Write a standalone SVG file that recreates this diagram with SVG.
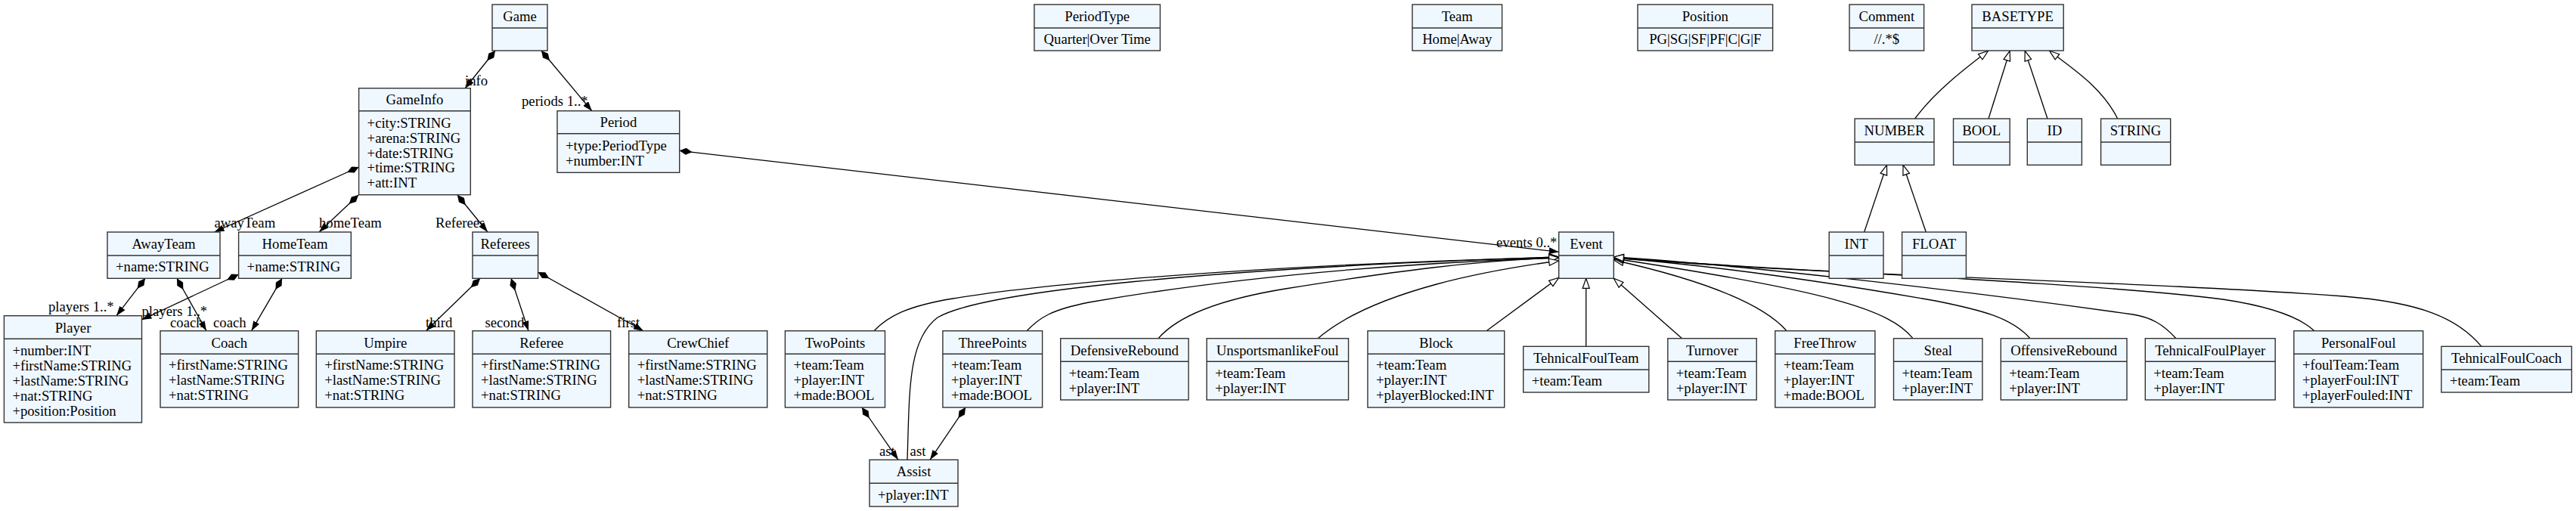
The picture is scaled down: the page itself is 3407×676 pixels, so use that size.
<svg xmlns="http://www.w3.org/2000/svg" width="3407" height="676" viewBox="0 0 3407 676">
<style>
.box rect{fill:#f0f8ff;stroke:#333;stroke-width:1.4}
.box line{stroke:#333;stroke-width:1.4}
text{font-family:'Liberation Serif','Times New Roman',serif;font-size:18.7px;fill:#000}
.c{text-anchor:middle}
.e{fill:none;stroke:#000;stroke-width:1.3}
.comp{marker-start:url(#diamond);marker-end:url(#arrow)}
.inh{marker-end:url(#tri)}
</style>
<defs>
<marker id="arrow" viewBox="0 0 13 9" refX="13" refY="4.5" markerWidth="13" markerHeight="9" markerUnits="userSpaceOnUse" orient="auto"><path d="M0,0 L13,4.5 L0,9 z" fill="#000"/></marker>
<marker id="diamond" viewBox="0 0 17 9" refX="0" refY="4.5" markerWidth="17" markerHeight="9" markerUnits="userSpaceOnUse" orient="auto"><path d="M0,4.5 L8.5,0 L17,4.5 L8.5,9 z" fill="#000"/></marker>
<marker id="tri" viewBox="-1 -1 15 11" refX="13" refY="4.5" markerWidth="15" markerHeight="11" markerUnits="userSpaceOnUse" orient="auto"><path d="M0,0 L13,4.5 L0,9 z" fill="#fff" stroke="#000" stroke-width="1.2"/></marker>
</defs>
<rect width="3407" height="676" fill="#fff"/>

<g id="connectors">
<!-- compositions -->
<path class="e comp" d="M655,67 L615,117"/>
<path class="e comp" d="M716,67 L783,147"/>
<path class="e comp" d="M474.6,221 L283.5,307"/>
<path class="e comp" d="M474,258 L422,307"/>
<path class="e comp" d="M605,258 L645,307"/>
<path class="e comp" d="M192,368.3 L154,417.7"/>
<path class="e comp" d="M234,368.3 L273,437.7"/>
<path class="e comp" d="M315.6,363 L187.5,423"/>
<path class="e comp" d="M373,368.3 L332.6,437.7"/>
<path class="e comp" d="M635,368.3 L563.4,437.7"/>
<path class="e comp" d="M676,368.3 L699,437.7"/>
<path class="e comp" d="M711.6,360 L851,437.7"/>
<path class="e comp" d="M898.7,199.3 L2061.7,333.3"/>
<path class="e comp" d="M1140,539 L1188,608.3"/>
<path class="e comp" d="M1277,539 L1230,608.3"/>
<!-- Event inheritance, left -->
<path class="e inh" d="M1200,608.3 C1203,520 1200,450 1240,420 C1300,385 1600,355 2061.7,340"/>
<path class="e inh" d="M1156,437.7 C1175,418 1200,405 1260,395 C1400,372 1700,350 2061.7,340"/>
<path class="e inh" d="M1358,437.7 C1375,420 1390,410 1440,400 C1600,372 1800,350 2061.7,341"/>
<path class="e inh" d="M1532,447.7 C1560,415 1620,395 1700,382 C1850,358 1950,345 2061.7,341"/>
<path class="e inh" d="M1743,447.7 C1775,420 1830,395 1900,376 C1960,360 2010,352 2061.7,345"/>
<path class="e inh" d="M1966,437.7 L2061.7,367.3"/>
<!-- Event inheritance, bottom/right -->
<path class="e inh" d="M2097.7,458.3 L2097.7,368.3"/>
<path class="e inh" d="M2224.6,447.7 L2134.3,368.3"/>
<path class="e inh" d="M2363,437.7 C2330,400 2250,370 2134.3,344"/>
<path class="e inh" d="M2530,447.7 C2500,410 2420,385 2134.3,342"/>
<path class="e inh" d="M2685,447.7 C2660,420 2620,410 2560,398 C2400,370 2250,350 2134.3,341"/>
<path class="e inh" d="M2878,447.7 C2860,428 2845,420 2821,416 C2600,385 2300,350 2134.3,340"/>
<path class="e inh" d="M3061,437.7 C3040,418 3000,405 2940,396 C2750,372 2300,355 2134.3,341"/>
<path class="e inh" d="M3282,458.3 C3250,420 3200,400 3100,392 C2800,370 2400,365 2134.3,340"/>
<!-- type hierarchy -->
<path class="e inh" d="M2532.6,157 C2560,120 2600,90 2629.5,67.3"/>
<path class="e inh" d="M2630,157 L2658.2,67.3"/>
<path class="e inh" d="M2708,157 L2678.2,67.3"/>
<path class="e inh" d="M2800.7,157 C2780,115 2740,90 2710.7,67.3"/>
<path class="e inh" d="M2465.6,307 L2495.5,218.3"/>
<path class="e inh" d="M2547.3,307 L2517,218.3"/>
<!-- labels -->
<text x="615" y="113">info</text>
<text x="690" y="140">periods 1..*</text>
<text x="1979" y="327">events 0..*</text>
<text x="283.5" y="301">awayTeam</text>
<text x="422" y="301">homeTeam</text>
<text x="576" y="301">Referees</text>
<text x="64" y="412">players 1..*</text>
<text x="187.5" y="418">players 1..*</text>
<text x="225" y="433">coach</text>
<text x="282" y="433">coach</text>
<text x="563" y="433">third</text>
<text x="641.5" y="433">second</text>
<text x="816" y="433">first</text>
<text x="1163" y="603">ast</text>
<text x="1203.6" y="603">ast</text>
</g>

<g id="Game" class="box"><rect x="651" y="6" width="73" height="61"/><line x1="651" y1="37" x2="724" y2="37"/><text class="c" x="687.5" y="28">Game</text></g>

<g id="GameInfo" class="box"><rect x="474.6" y="116.7" width="147.7" height="141"/><line x1="474.6" y1="146.7" x2="622.3" y2="146.7"/><text class="c" x="548.5" y="138.2">GameInfo</text>
<text x="485.6" y="168.8">+city:STRING</text><text x="485.6" y="188.6">+arena:STRING</text><text x="485.6" y="208.5">+date:STRING</text><text x="485.6" y="228.3">+time:STRING</text><text x="485.6" y="248.2">+att:INT</text></g>

<g id="Period" class="box"><rect x="737" y="146.7" width="161.7" height="81.6"/><line x1="737" y1="176.7" x2="898.7" y2="176.7"/><text class="c" x="817.9" y="168.2">Period</text>
<text x="748" y="199.2">+type:PeriodType</text><text x="748" y="218.8">+number:INT</text></g>

<g id="PeriodType" class="box"><rect x="1367.9" y="6" width="166.5" height="61"/><line x1="1367.9" y1="37" x2="1534.4" y2="37"/><text class="c" x="1451.2" y="28">PeriodType</text><text class="c" x="1451.2" y="58.2">Quarter|Over Time</text></g>

<g id="Team" class="box"><rect x="1867.9" y="6" width="118.7" height="61"/><line x1="1867.9" y1="37" x2="1986.6" y2="37"/><text class="c" x="1927.3" y="28">Team</text><text class="c" x="1927.3" y="58.2">Home|Away</text></g>

<g id="Position" class="box"><rect x="2166" y="6" width="178.6" height="61"/><line x1="2166" y1="37" x2="2344.6" y2="37"/><text class="c" x="2255.3" y="28">Position</text><text class="c" x="2255.3" y="58.2">PG|SG|SF|PF|C|G|F</text></g>

<g id="Comment" class="box"><rect x="2446" y="6" width="98.6" height="61"/><line x1="2446" y1="37" x2="2544.6" y2="37"/><text class="c" x="2495.3" y="28">Comment</text><text class="c" x="2495.3" y="58.2">//.*$</text></g>

<g id="BASETYPE" class="box"><rect x="2608" y="6" width="121.2" height="61"/><line x1="2608" y1="37" x2="2729.2" y2="37"/><text class="c" x="2668.6" y="28">BASETYPE</text></g>

<g id="NUMBER" class="box"><rect x="2453.1" y="157" width="104.9" height="61.3"/><line x1="2453.1" y1="188" x2="2558" y2="188"/><text class="c" x="2505.5" y="179">NUMBER</text></g>
<g id="BOOL" class="box"><rect x="2583.5" y="157" width="74.7" height="61.3"/><line x1="2583.5" y1="188" x2="2658.2" y2="188"/><text class="c" x="2620.8" y="179">BOOL</text></g>
<g id="ID" class="box"><rect x="2681.3" y="157" width="72.1" height="61.3"/><line x1="2681.3" y1="188" x2="2753.4" y2="188"/><text class="c" x="2717.3" y="179">ID</text></g>
<g id="STRING" class="box"><rect x="2778.6" y="157" width="92.1" height="61.3"/><line x1="2778.6" y1="188" x2="2870.7" y2="188"/><text class="c" x="2824.6" y="179">STRING</text></g>
<g id="INT" class="box"><rect x="2419.2" y="307" width="71.8" height="61.3"/><line x1="2419.2" y1="338" x2="2491" y2="338"/><text class="c" x="2455.1" y="329">INT</text></g>
<g id="FLOAT" class="box"><rect x="2515.6" y="307" width="84.8" height="61.3"/><line x1="2515.6" y1="338" x2="2600.4" y2="338"/><text class="c" x="2558" y="329">FLOAT</text></g>

<g id="Event" class="box"><rect x="2061.7" y="307" width="72.6" height="61.3"/><line x1="2061.7" y1="338" x2="2134.3" y2="338"/><text class="c" x="2098" y="329">Event</text></g>

<g id="AwayTeam" class="box"><rect x="142" y="307" width="149" height="61.3"/><line x1="142" y1="338" x2="291" y2="338"/><text class="c" x="216.5" y="329">AwayTeam</text><text x="153" y="358.8">+name:STRING</text></g>
<g id="HomeTeam" class="box"><rect x="315.6" y="307" width="148.7" height="61.3"/><line x1="315.6" y1="338" x2="464.3" y2="338"/><text class="c" x="390" y="329">HomeTeam</text><text x="326.6" y="358.8">+name:STRING</text></g>
<g id="Referees" class="box"><rect x="625" y="307" width="86.6" height="61.3"/><line x1="625" y1="338" x2="711.6" y2="338"/><text class="c" x="668.3" y="329">Referees</text></g>

<g id="Player" class="box"><rect x="5.4" y="417.7" width="182.1" height="141.3"/><line x1="5.4" y1="448.3" x2="187.5" y2="448.3"/><text class="c" x="96.5" y="439.5">Player</text>
<text x="16.4" y="469.8">+number:INT</text><text x="16.4" y="489.8">+firstName:STRING</text><text x="16.4" y="509.8">+lastName:STRING</text><text x="16.4" y="529.8">+nat:STRING</text><text x="16.4" y="549.8">+position:Position</text></g>

<g id="Coach" class="box"><rect x="212" y="437.7" width="182.6" height="101.3"/><line x1="212" y1="468.3" x2="394.6" y2="468.3"/><text class="c" x="303.3" y="459.5">Coach</text>
<text x="223" y="489.2">+firstName:STRING</text><text x="223" y="509.2">+lastName:STRING</text><text x="223" y="529.2">+nat:STRING</text></g>
<g id="Umpire" class="box"><rect x="418.3" y="437.7" width="182.7" height="101.3"/><line x1="418.3" y1="468.3" x2="601" y2="468.3"/><text class="c" x="509.7" y="459.5">Umpire</text>
<text x="429.3" y="489.2">+firstName:STRING</text><text x="429.3" y="509.2">+lastName:STRING</text><text x="429.3" y="529.2">+nat:STRING</text></g>
<g id="Referee" class="box"><rect x="625" y="437.7" width="182.6" height="101.3"/><line x1="625" y1="468.3" x2="807.6" y2="468.3"/><text class="c" x="716.3" y="459.5">Referee</text>
<text x="636" y="489.2">+firstName:STRING</text><text x="636" y="509.2">+lastName:STRING</text><text x="636" y="529.2">+nat:STRING</text></g>
<g id="CrewChief" class="box"><rect x="831.7" y="437.7" width="183" height="101.3"/><line x1="831.7" y1="468.3" x2="1014.7" y2="468.3"/><text class="c" x="923.2" y="459.5">CrewChief</text>
<text x="842.7" y="489.2">+firstName:STRING</text><text x="842.7" y="509.2">+lastName:STRING</text><text x="842.7" y="529.2">+nat:STRING</text></g>

<g id="TwoPoints" class="box"><rect x="1038.4" y="437.7" width="132.1" height="101.3"/><line x1="1038.4" y1="468.3" x2="1170.5" y2="468.3"/><text class="c" x="1104.5" y="459.5">TwoPoints</text>
<text x="1049.4" y="489.2">+team:Team</text><text x="1049.4" y="509.2">+player:INT</text><text x="1049.4" y="529.2">+made:BOOL</text></g>
<g id="ThreePoints" class="box"><rect x="1246.9" y="437.7" width="131.7" height="101.3"/><line x1="1246.9" y1="468.3" x2="1378.6" y2="468.3"/><text class="c" x="1312.8" y="459.5">ThreePoints</text>
<text x="1257.9" y="489.2">+team:Team</text><text x="1257.9" y="509.2">+player:INT</text><text x="1257.9" y="529.2">+made:BOOL</text></g>
<g id="Assist" class="box"><rect x="1150" y="608.3" width="117" height="61.7"/><line x1="1150" y1="639.3" x2="1267" y2="639.3"/><text class="c" x="1208.5" y="630.3">Assist</text><text x="1161" y="660.5">+player:INT</text></g>

<g id="DefensiveRebound" class="box"><rect x="1402.7" y="447.7" width="169.2" height="81.3"/><line x1="1402.7" y1="478.3" x2="1571.9" y2="478.3"/><text class="c" x="1487.3" y="469.5">DefensiveRebound</text>
<text x="1413.7" y="499.8">+team:Team</text><text x="1413.7" y="519.8">+player:INT</text></g>
<g id="UnsportsmanlikeFoul" class="box"><rect x="1596" y="447.7" width="187.5" height="81.3"/><line x1="1596" y1="478.3" x2="1783.5" y2="478.3"/><text class="c" x="1689.8" y="469.5">UnsportsmanlikeFoul</text>
<text x="1607" y="499.8">+team:Team</text><text x="1607" y="519.8">+player:INT</text></g>
<g id="Block" class="box"><rect x="1808.9" y="437.7" width="180.8" height="101.3"/><line x1="1808.9" y1="468.3" x2="1989.7" y2="468.3"/><text class="c" x="1899.3" y="459.5">Block</text>
<text x="1819.9" y="489.2">+team:Team</text><text x="1819.9" y="509.2">+player:INT</text><text x="1819.9" y="529.2">+playerBlocked:INT</text></g>
<g id="TehnicalFoulTeam" class="box"><rect x="2014.7" y="458.3" width="166.1" height="60.7"/><line x1="2014.7" y1="489" x2="2180.8" y2="489"/><text class="c" x="2097.7" y="480.2">TehnicalFoulTeam</text><text x="2025.7" y="509.8">+team:Team</text></g>
<g id="Turnover" class="box"><rect x="2205.8" y="447.7" width="117.4" height="81.3"/><line x1="2205.8" y1="478.3" x2="2323.2" y2="478.3"/><text class="c" x="2264.5" y="469.5">Turnover</text>
<text x="2216.8" y="499.8">+team:Team</text><text x="2216.8" y="519.8">+player:INT</text></g>
<g id="FreeThrow" class="box"><rect x="2347.8" y="437.7" width="132.1" height="101.3"/><line x1="2347.8" y1="468.3" x2="2479.9" y2="468.3"/><text class="c" x="2413.8" y="459.5">FreeThrow</text>
<text x="2358.8" y="489.2">+team:Team</text><text x="2358.8" y="509.2">+player:INT</text><text x="2358.8" y="529.2">+made:BOOL</text></g>
<g id="Steal" class="box"><rect x="2504.5" y="447.7" width="117.4" height="81.3"/><line x1="2504.5" y1="478.3" x2="2621.9" y2="478.3"/><text class="c" x="2563.2" y="469.5">Steal</text>
<text x="2515.5" y="499.8">+team:Team</text><text x="2515.5" y="519.8">+player:INT</text></g>
<g id="OffensiveRebound" class="box"><rect x="2646.3" y="447.7" width="166.7" height="81.3"/><line x1="2646.3" y1="478.3" x2="2813" y2="478.3"/><text class="c" x="2729.6" y="469.5">OffensiveRebound</text>
<text x="2657.3" y="499.8">+team:Team</text><text x="2657.3" y="519.8">+player:INT</text></g>
<g id="TehnicalFoulPlayer" class="box"><rect x="2837.3" y="447.7" width="171.9" height="81.3"/><line x1="2837.3" y1="478.3" x2="3009.2" y2="478.3"/><text class="c" x="2923.2" y="469.5">TehnicalFoulPlayer</text>
<text x="2848.3" y="499.8">+team:Team</text><text x="2848.3" y="519.8">+player:INT</text></g>
<g id="PersonalFoul" class="box"><rect x="3033.9" y="437.7" width="170.8" height="101.3"/><line x1="3033.9" y1="468.3" x2="3204.7" y2="468.3"/><text class="c" x="3119.3" y="459.5">PersonalFoul</text>
<text x="3044.9" y="489.2">+foulTeam:Team</text><text x="3044.9" y="509.2">+playerFoul:INT</text><text x="3044.9" y="529.2">+playerFouled:INT</text></g>
<g id="TehnicalFoulCoach" class="box"><rect x="3228.9" y="458.3" width="172.4" height="60.7"/><line x1="3228.9" y1="489" x2="3401.3" y2="489"/><text class="c" x="3315.1" y="480.2">TehnicalFoulCoach</text><text x="3239.9" y="509.8">+team:Team</text></g>
</svg>
